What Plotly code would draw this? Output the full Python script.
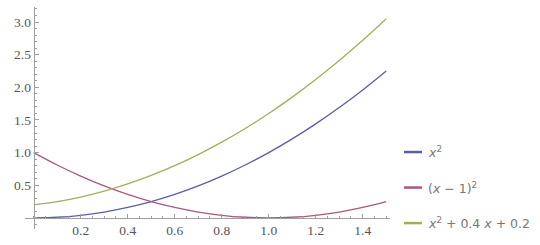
import plotly.graph_objects as go

x_vals = [0.0, 0.1, 0.2, 0.3, 0.4, 0.5, 0.6, 0.7, 0.8, 0.9, 1.0, 1.1, 1.2, 1.3, 1.4, 1.5]
y_sq = [0.0, 0.01, 0.04, 0.09, 0.16, 0.25, 0.36, 0.49, 0.64, 0.81, 1.0, 1.21, 1.44, 1.69, 1.96, 2.25]
y_shift = [1.0, 0.81, 0.64, 0.49, 0.36, 0.25, 0.16, 0.09, 0.04, 0.01, 0.0, 0.01, 0.04, 0.09, 0.16, 0.25]
y_quad = [0.2, 0.25, 0.32, 0.41, 0.52, 0.65, 0.80, 0.97, 1.16, 1.37, 1.60, 1.85, 2.12, 2.41, 2.72, 3.05]

series_names = ["<i>x</i><sup>2</sup>",
                "(<i>x</i> \u2212 1)<sup>2</sup>",
                "<i>x</i><sup>2</sup> + 0.4 <i>x</i> + 0.2"]
colors = ["#5c5cac", "#a8577f", "#a6ac5a"]

x_ticks = [0.2, 0.4, 0.6, 0.8, 1.0, 1.2, 1.4]
x_ticktext = ["0.2", "0.4", "0.6", "0.8", "1.0", "1.2", "1.4"]
y_ticks = [0.5, 1.0, 1.5, 2.0, 2.5, 3.0]
y_ticktext = ["0.5", "1.0", "1.5", "2.0", "2.5", "3.0"]

x_range = [-0.037, 1.516]
y_range = [-0.17, 3.23]

fig = go.Figure()
for ys, c in zip([y_sq, y_shift, y_quad], colors):
    fig.add_trace(go.Scatter(x=x_vals, y=ys, mode="lines",
                             line=dict(color=c, width=1.3, shape="spline"),
                             showlegend=False, hoverinfo="skip"))

axis_color = "#a0a0a0"
tick_font = dict(family="Liberation Serif", size=13.5, color="#555555")

fig.update_layout(
    width=540, height=245,
    margin=dict(l=25, r=150, t=7, b=13),
    plot_bgcolor="white", paper_bgcolor="white",
    xaxis=dict(range=x_range, anchor="free",
               position=(0 - y_range[0]) / (y_range[1] - y_range[0]),
               showgrid=False, zeroline=False, showline=True,
               linecolor=axis_color, linewidth=1,
               tickvals=x_ticks, ticktext=x_ticktext,
               ticks="inside", ticklen=4, tickcolor=axis_color,
               tickfont=tick_font,
               minor=dict(dtick=0.05, ticks="inside", ticklen=2, tickcolor=axis_color,
                          showgrid=False)),
    yaxis=dict(range=y_range, anchor="free",
               position=(0 - x_range[0]) / (x_range[1] - x_range[0]),
               showgrid=False, zeroline=False, showline=True,
               linecolor=axis_color, linewidth=1,
               tickvals=y_ticks, ticktext=y_ticktext,
               ticks="inside", ticklen=4, tickcolor=axis_color,
               tickfont=tick_font,
               minor=dict(dtick=0.1, ticks="inside", ticklen=2, tickcolor=axis_color,
                          showgrid=False)),
)

# Manual legend (paper coordinates)
legend_y = [154, 190, 226]
plot_w = 540 - 25 - 150
plot_h = 245 - 7 - 13
for name, c, py in zip(series_names, colors, legend_y):
    yp = 1 - (py - 7) / plot_h
    x0 = (404 - 25) / plot_w
    x1 = (422 - 25) / plot_w
    fig.add_shape(type="line", xref="paper", yref="paper",
                  x0=x0, x1=x1, y0=yp, y1=yp,
                  line=dict(color=c, width=2.5))
    fig.add_annotation(xref="paper", yref="paper", x=(426 - 25) / plot_w, y=yp,
                       xanchor="left", yanchor="middle", showarrow=False,
                       text=name,
                       font=dict(family="DejaVu Sans", size=12.5, color="#777777"))

fig.write_html("out.html")
